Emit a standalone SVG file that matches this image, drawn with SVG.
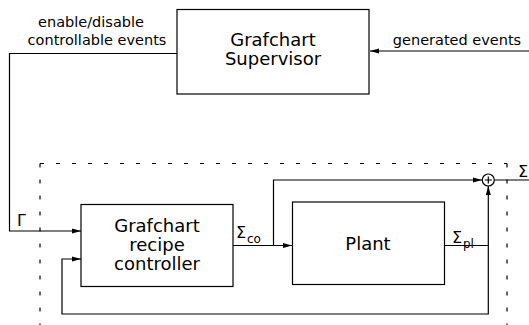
<svg xmlns="http://www.w3.org/2000/svg" width="529" height="325" viewBox="0 0 529 325">
<defs>
<marker id="arr" markerWidth="9" markerHeight="6" refX="9" refY="3" orient="auto" markerUnits="userSpaceOnUse">
<path d="M0,0.5 L9,3 L0,5.5 Z" fill="#000"/>
</marker>
<style>
.box{fill:#fff;stroke:#000;stroke-width:1.2}
.ln{fill:none;stroke:#000;stroke-width:1.2}
.dash{fill:none;stroke:#000;stroke-width:1.2;stroke-dasharray:4 12}
.t{font-family:'DejaVu Sans','Liberation Sans',sans-serif;fill:#000}
.big{font-size:18px;text-anchor:middle}
.sm{font-size:14.5px;text-anchor:middle}
.sym{font-size:16px}
.sub{font-size:12px}
</style>
</defs>
<rect width="529" height="325" fill="#fff"/>
<g id="boundary">
<path class="dash" d="M40,163.5 H507"/>
<path class="dash" d="M40,163.5 V325"/>
<path class="dash" d="M507,163.5 V325"/>
</g>
<g id="connectors">
<path class="ln" d="M177,53.5 H9.5 V231 H81" marker-end="url(#arr)"/>
<path class="ln" d="M529,51 H370" marker-end="url(#arr)"/>
<path class="ln" d="M233,245.5 H292" marker-end="url(#arr)"/>
<path class="ln" d="M273.5,245.5 V180 H482" marker-end="url(#arr)"/>
<path class="ln" d="M444,245.5 H488.3 V186" marker-end="url(#arr)"/>
<path class="ln" d="M488.3,245.5 V314 H62 V259 H81" marker-end="url(#arr)"/>
<path class="ln" d="M494.3,180 H529"/>
</g>
<g id="supervisor">
<rect class="box" x="177" y="9.5" width="192" height="84.5"/>
<text class="t big" x="273" y="46">Grafchart</text>
<text class="t big" x="273" y="65">Supervisor</text>
</g>
<g id="controller">
<rect class="box" x="81" y="204.5" width="152" height="82"/>
<text class="t big" x="157" y="232">Grafchart</text>
<text class="t big" x="157" y="251">recipe</text>
<text class="t big" x="157" y="270">controller</text>
</g>
<g id="plant">
<rect class="box" x="292.5" y="202" width="152" height="82.5"/>
<text class="t big" x="368" y="250">Plant</text>
</g>
<g id="sum">
<circle cx="488.3" cy="180" r="6" fill="#fff" stroke="#000" stroke-width="1.2"/>
<path class="ln" d="M484.8,180 H491.8 M488.3,176.5 V183.5" stroke-width="1"/>
</g>
<g id="labels">
<text class="t sm" x="91" y="26.5">enable/disable</text>
<text class="t sm" x="97" y="45">controllable events</text>
<text class="t sm" x="457" y="45">generated events</text>
<text class="t sym" x="17" y="226">Γ</text>
<text class="t sym" x="236" y="238">Σ</text><text class="t sub" x="247" y="242.5">co</text>
<text class="t sym" x="452" y="243">Σ</text><text class="t sub" x="463" y="247.5">pl</text>
<text class="t sym" x="518" y="176.5">Σ</text>
</g>
</svg>
